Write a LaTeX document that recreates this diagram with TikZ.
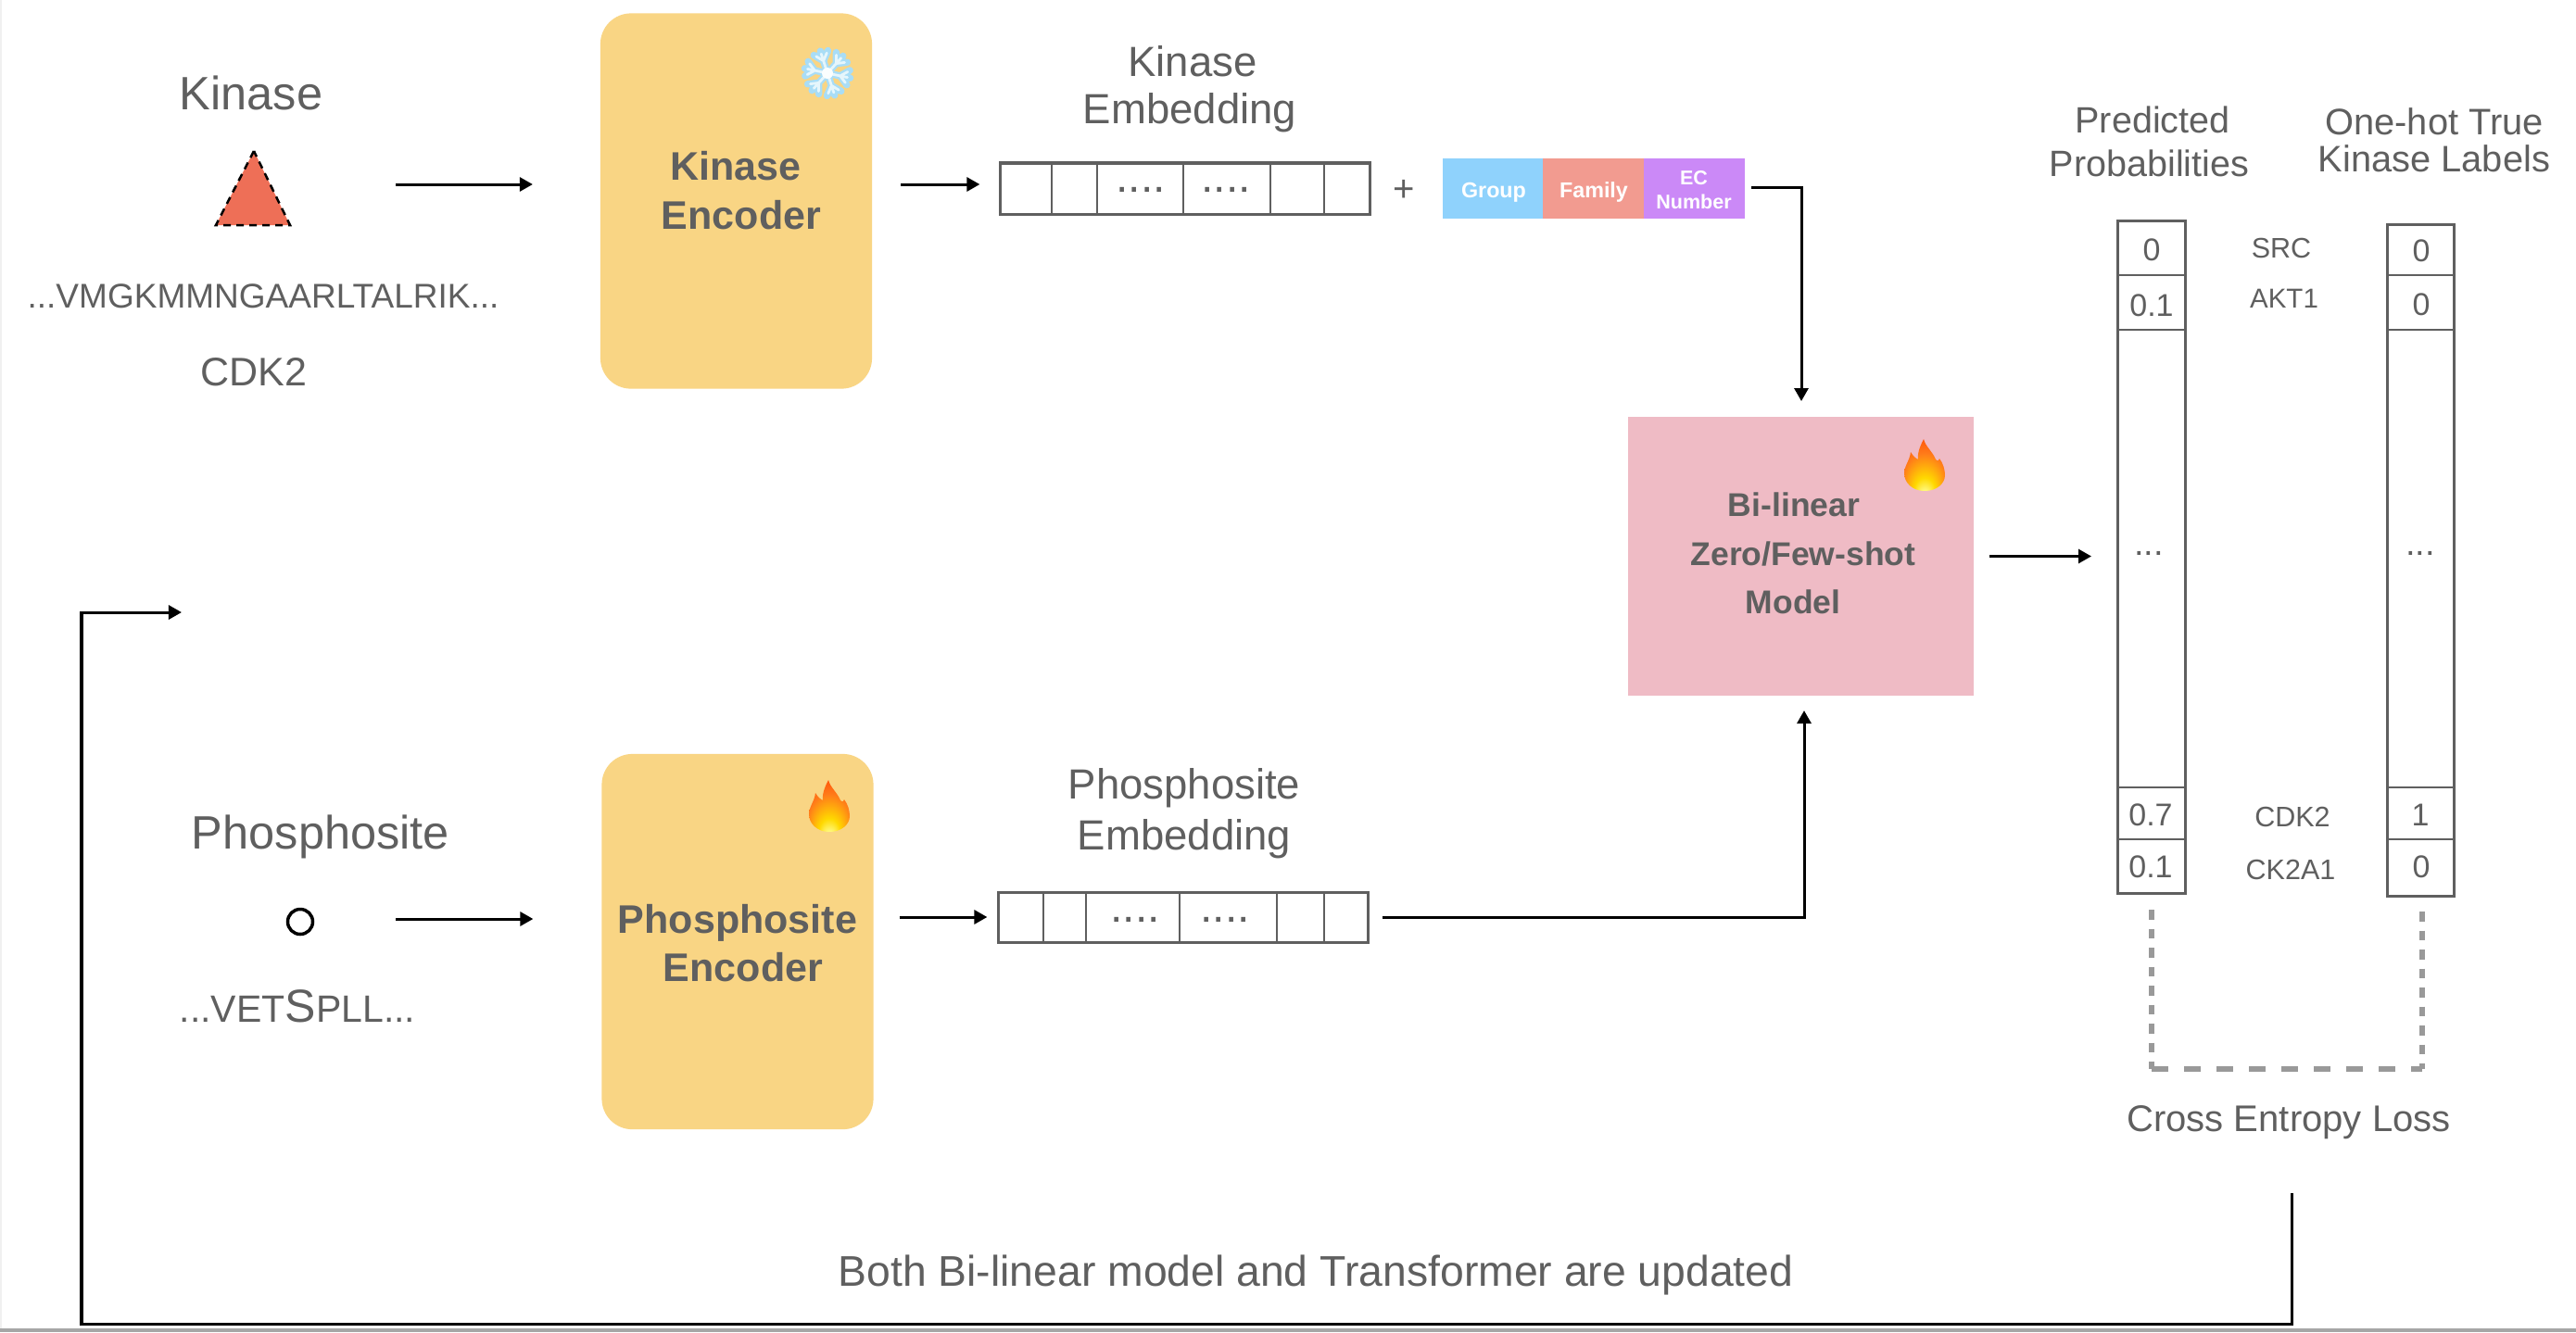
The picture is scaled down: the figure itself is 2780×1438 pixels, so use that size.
\documentclass[tikz,border=0pt]{standalone}
\usepackage{fontspec}
\setmainfont{Liberation Sans}
\usetikzlibrary{arrows.meta}
\newdimen\fszdim
\newcommand\fsz[1]{\fszdim=#1\dimexpr0.28453pt\relax\fontsize{\the\fszdim}{\the\fszdim}\selectfont}
\definecolor{tgray}{HTML}{5F5F5F}
\definecolor{encfill}{HTML}{F9D584}
\definecolor{modelfill}{HTML}{EFBBC5}
\definecolor{groupfill}{HTML}{8FD2FC}
\definecolor{familyfill}{HTML}{F29B90}
\definecolor{ecfill}{HTML}{CB89F7}
\definecolor{trifill}{HTML}{EE6F57}
\definecolor{dashgray}{HTML}{999999}
\definecolor{flakeout}{HTML}{A9DDF6}
\definecolor{flakein}{HTML}{E6F6FC}
\pgfdeclareradialshading{flameshade}{\pgfpoint{0bp}{-34bp}}{
  color(0bp)=(white); color(4bp)=(white!60!yellow); color(13bp)=(yellow!70!orange);
  color(27bp)=(orange!85!red!90!white); color(42bp)=(red!55!orange); color(50bp)=(red!60!orange)}
\tikzset{
  txt/.style={inner sep=0pt,outer sep=0pt,text=tgray,anchor=base,align=center},
  conn/.style={draw=black,line width=0.03cm},
  arr/.style={conn,-{Triangle[length=0.14cm,width=0.15cm]}},
  encbox/.style={fill=encfill,rounded corners=0.33cm,minimum width=2.93cm,minimum height=4.05cm,inner sep=0pt,outer sep=0pt},
  cellrow/.style={draw=tgray,line width=0.03cm,fill=white,inner sep=0pt,outer sep=0pt},
  cellline/.style={draw=tgray,line width=0.028cm},
  attr/.style={inner sep=0pt,outer sep=0pt,minimum height=0.65cm},
  lossline/.style={draw=dashgray,line width=0.055cm},
  flameicon/.pic={
    \begin{scope}
      \clip (0,28) .. controls (-13,28) and (-22,19) .. (-22,9)
        .. controls (-22,1) and (-16,-5) .. (-15,-14)
        .. controls (-12,-9) and (-9,-7) .. (-7,-6)
        .. controls (-8,-14) and (-4,-22) .. (-1,-28)
        .. controls (1,-20) and (9,-14) .. (12,-6)
        .. controls (13,-4) and (15,-4) .. (16,-7)
        .. controls (20,-2) and (22,5) .. (22,11)
        .. controls (22,20) and (13,28) .. (0,28) -- cycle;
      \shade[shading=flameshade] (-22,-28) rectangle (22,28);
    \end{scope}
  },
  flakeicon/.pic={
    \foreach \a in {108,48,168,-12,-72,-132}{
      \begin{scope}[rotate=\a]
        \draw[draw=flakeout,line width=0.075cm,line cap=round] (0,0) -- (25,0) (14,0) -- (23,8) (14,0) -- (23,-8);
      \end{scope}}
    \foreach \a in {108,48,168,-12,-72,-132}{
      \begin{scope}[rotate=\a]
        \draw[draw=flakein,line width=0.028cm,line cap=round] (0,0) -- (22,0) (14,0) -- (21,6) (14,0) -- (21,-6);
      \end{scope}}
    \fill[white!85!flakein] (0,0) circle (6);
  }
}
\begin{document}
\begin{tikzpicture}[x=0.01cm,y=-0.01cm]
\useasboundingbox (0,0) rectangle (2780,1438);
\fill[white] (0,0) rectangle (2780,1438);
\fill[black!6] (0,0) rectangle (2,1434);
\fill[black!35] (0,1434) rectangle (2780,1438);

% left inputs
\node[txt,font=\fsz{50.5}] (kinhead) at (271,118) {Kinase};
\fill[trifill] (274,163) -- (233,243) -- (313,243) -- cycle;
\draw[black,line width=0.025cm,dash pattern=on 0.08cm off 0.06cm] (274,163) -- (233,243) -- (313,243) -- cycle;
\coordinate (kinstart) at (427,199);
\node[txt,font=\fsz{37}] (kinseq) at (284,332) {...VMGKMMNGAARLTALRIK...};
\node[txt,font=\fsz{43}] (kinname) at (274,416) {CDK2};

\node[txt,font=\fsz{50.5}] (phohead) at (346,916) {Phosphosite};
\node[draw=black,fill=white,circle,line width=0.035cm,minimum size=0.27cm,inner sep=0pt] (phocirc) at (324,995) {};
\node[txt] (phoseq) at (321,1103) {{\fsz{41}...VET}{\fsz{50}S}{\fsz{41}PLL...}};
\coordinate (phostart) at (427,992);

% encoders
\node[encbox] (kenc) at (794.5,217) {};
\node[txt,font=\fsz{43}\bfseries] (kenc1) at (794,194) {Kinase};
\node[txt,font=\fsz{43}\bfseries] (kenc2) at (800,247) {Encoder};
\pic at (893,79) {flakeicon};
\node[encbox] (penc) at (796,1016.5) {};
\node[txt,font=\fsz{43}\bfseries] (penc1) at (796,1007) {Phosphosite};
\node[txt,font=\fsz{43}\bfseries] (penc2) at (802,1059) {Encoder};
\pic at (895,870) {flameicon};

% kinase embedding
\node[txt,font=\fsz{45.5}] (kemb1) at (1287,82) {Kinase};
\node[txt,font=\fsz{45.5}] (kemb2) at (1284,133) {Embedding};
\node[cellrow,minimum width=3.99cm,minimum height=0.55cm] (kemb) at (1279,203.5) {};
\foreach \x in {1135,1184,1277,1371,1429}{\draw[cellline] (\x,177) -- (\x,231);}
\node[txt,font=\fsz{48}] (kdots1) at (1231,207) {....};
\node[txt,font=\fsz{48}] (kdots2) at (1323,207) {....};
\node[txt,font=\fsz{40}] (plus) at (1515,217) {+};

% attribute blocks
\node[attr,fill=groupfill,minimum width=1.08cm] (group) at (1611,203.5) {};
\node[attr,fill=familyfill,minimum width=1.09cm] (family) at (1719.5,203.5) {};
\node[attr,fill=ecfill,minimum width=1.09cm] (ecnum) at (1828.5,203.5) {};
\node[txt,text=white,font=\fsz{23.3}\bfseries] (grouptxt) at (1612,213) {Group};
\node[txt,text=white,font=\fsz{23.3}\bfseries] (familytxt) at (1720,213) {Family};
\node[txt,text=white,font=\fsz{21.5}\bfseries] (ectxt1) at (1828,199) {EC};
\node[txt,text=white,font=\fsz{21.5}\bfseries] (ectxt2) at (1828,225) {Number};

% phosphosite embedding
\node[txt,font=\fsz{45.5}] (pemb1) at (1278,862) {Phosphosite};
\node[txt,font=\fsz{45.5}] (pemb2) at (1278,917) {Embedding};
\node[cellrow,minimum width=3.99cm,minimum height=0.54cm] (pemb) at (1277,990.5) {};
\foreach \x in {1126,1172,1273,1378,1429}{\draw[cellline] (\x,964) -- (\x,1017);}
\node[txt,font=\fsz{48}] (pdots1) at (1225,995) {....};
\node[txt,font=\fsz{48}] (pdots2) at (1322,995) {....};

% model
\node[fill=modelfill,minimum width=3.73cm,minimum height=3.01cm,inner sep=0pt,outer sep=0pt] (model) at (1943.5,600.5) {};
\node[txt,font=\fsz{35.5}\bfseries] (model1) at (1936,557) {Bi-linear};
\node[txt,font=\fsz{35.5}\bfseries] (model2) at (1946,610) {Zero/Few-shot};
\node[txt,font=\fsz{35.5}\bfseries] (model3) at (1935,662) {Model};
\pic at (2077,502) {flameicon};

% probability columns
\node[txt,font=\fsz{39.5}] (predh1) at (2323,143) {Predicted};
\node[txt,font=\fsz{39.5}] (predh2) at (2319.5,190) {Probabilities};
\node[txt,font=\fsz{39.8}] (trueh1) at (2627,145) {One-hot True};
\node[txt,font=\fsz{39.8}] (trueh2) at (2627,185) {Kinase Labels};

\node[cellrow,minimum width=0.72cm,minimum height=7.26cm] (pcol) at (2322,601.5) {};
\foreach \y in {297,356,850,906}{\draw[cellline] (2286,\y) -- (2358,\y);}
\node[cellrow,minimum width=0.71cm,minimum height=7.25cm] (tcol) at (2612.5,605) {};
\foreach \y in {297,356,850,906}{\draw[cellline] (2577,\y) -- (2648,\y);}

\node[txt,font=\fsz{34}] (p1) at (2322,281) {0};
\node[txt,font=\fsz{34}] (p2) at (2322,341) {0.1};
\node[txt,font=\fsz{38}] (p3) at (2319,599) {...};
\node[txt,font=\fsz{34}] (p4) at (2321,891) {0.7};
\node[txt,font=\fsz{34}] (p5) at (2321,947) {0.1};
\node[txt,font=\fsz{34}] (t1) at (2613,282) {0};
\node[txt,font=\fsz{34}] (t2) at (2613,340) {0};
\node[txt,font=\fsz{38}] (t3) at (2612,599) {...};
\node[txt,font=\fsz{34}] (t4) at (2612,891) {1};
\node[txt,font=\fsz{34}] (t5) at (2613,947) {0};
\node[txt,font=\fsz{30.5}] (l1) at (2462,278) {SRC};
\node[txt,font=\fsz{29.5}] (l2) at (2465,332) {AKT1};
\node[txt,font=\fsz{30.5}] (l3) at (2474,892) {CDK2};
\node[txt,font=\fsz{30.5}] (l4) at (2472,949) {CK2A1};

% loss
\coordinate (lossA) at (2322,982);
\coordinate (lossB) at (2322,1154);
\coordinate (lossC) at (2614,1154);
\coordinate (lossD) at (2614,984);
\draw[lossline,dash pattern=on 0.105cm off 0.1cm] (lossA) -- (lossB);
\draw[lossline,dash pattern=on 0.105cm off 0.1cm] (lossD) -- (lossC);
\draw[lossline,dash pattern=on 0.175cm off 0.175cm] (lossB) -- (lossC);
\node[txt,font=\fsz{40}] (loss) at (2470,1221) {Cross Entropy Loss};
\node[txt,font=\fsz{46.3}] (update) at (1420,1388) {Both Bi-linear model and Transformer are updated};

% connectors
\draw[arr,shorten >=0.73cm] (kinstart) -- (kinstart -| kenc.west);
\draw[arr,shorten >=0.74cm] (phostart) -- (phostart -| penc.west);
\draw[arr,shorten <=0.31cm,shorten >=0.22cm] ([yshift=0.18cm]kenc.east) -- ([yshift=0.18cm]kenc.east -| kemb.west);
\draw[arr,shorten <=0.28cm,shorten >=0.12cm] ([yshift=0.265cm]penc.east) -- ([yshift=0.265cm]penc.east -| pemb.west);
\coordinate (attrout) at (1890,202);
\coordinate (modtop) at (1944,433);
\coordinate (modbot) at (1947,767);
\draw[arr] (attrout) -| (modtop);
\draw[arr,shorten <=0.15cm] (pemb.east) -| (modbot);
\coordinate (probin) at (2257,600);
\draw[arr,shorten <=0.17cm] (model.east) -- (model.east -| probin);
\coordinate (backA) at (2473,1288);
\coordinate (backB) at (2473,1429);
\coordinate (backC) at (88,1429);
\coordinate (backD) at (88,661);
\coordinate (backE) at (196,661);
\draw[arr,line join=miter] (backA) -- (backB) -- (backC) -- (backD) -- (backE);
\end{tikzpicture}
\end{document}
